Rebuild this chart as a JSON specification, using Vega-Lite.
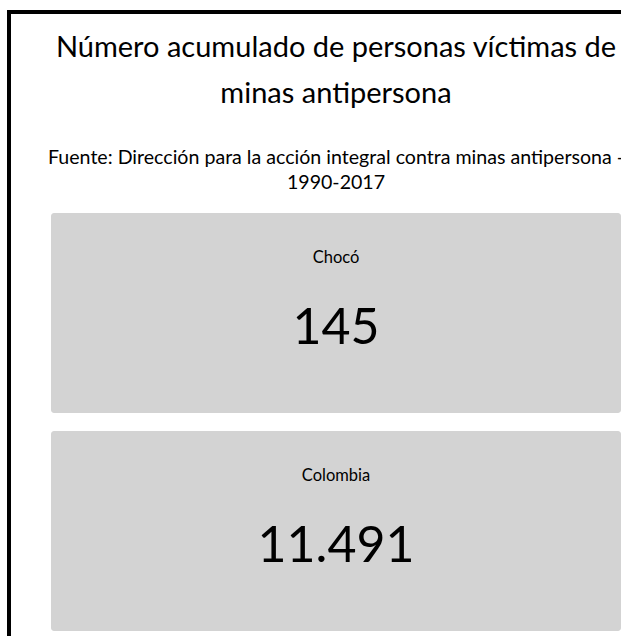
{
  "$schema": "https://vega.github.io/schema/vega-lite/v6.json",
  "width": 654,
  "height": 660,
  "autosize": {"type": "none"},
  "padding": {"left": 9, "top": 12, "right": -42, "bottom": -36},
  "background": "white",
  "config": {
    "view": {"stroke": "black", "strokeWidth": 4},
    "font": "Lato",
    "locale": {"number": {"decimal": ",", "thousands": ".", "grouping": [3], "currency": ["$", ""]}}
  },
  "title": {
    "text": ["Número acumulado de personas víctimas de", "minas antipersona"],
    "subtitle": ["Fuente: Dirección para la acción integral contra minas antipersona -", "1990-2017"],
    "anchor": "middle",
    "frame": "group",
    "offset": -181,
    "dx": 0,
    "font": "Lato",
    "fontSize": 29,
    "fontWeight": "normal",
    "color": "black",
    "lineHeight": 46,
    "subtitleFont": "Lato",
    "subtitleFontSize": 19.6,
    "subtitleLineHeight": 25,
    "subtitlePadding": 40,
    "subtitleColor": "black"
  },
  "data": {
    "values": [
      {"region": "Chocó", "value": 145},
      {"region": "Colombia", "value": 11491}
    ]
  },
  "encoding": {
    "y": {
      "field": "region",
      "type": "nominal",
      "sort": null,
      "scale": {"paddingInner": 0.0826, "paddingOuter": 0.555, "align": 0.8306},
      "axis": null
    },
    "x": {
      "datum": "card",
      "type": "nominal",
      "scale": {"paddingInner": 0, "paddingOuter": 0.0737},
      "axis": null
    }
  },
  "layer": [
    {
      "mark": {"type": "bar", "color": "#d3d3d3", "cornerRadius": 3}
    },
    {
      "mark": {"type": "text", "dy": -55, "fontSize": 16.5, "color": "black", "baseline": "middle"},
      "encoding": {"text": {"field": "region"}}
    },
    {
      "mark": {"type": "text", "dy": 16, "fontSize": 50, "color": "black", "baseline": "middle"},
      "encoding": {"text": {"field": "value", "type": "quantitative", "format": ",d"}}
    }
  ]
}
